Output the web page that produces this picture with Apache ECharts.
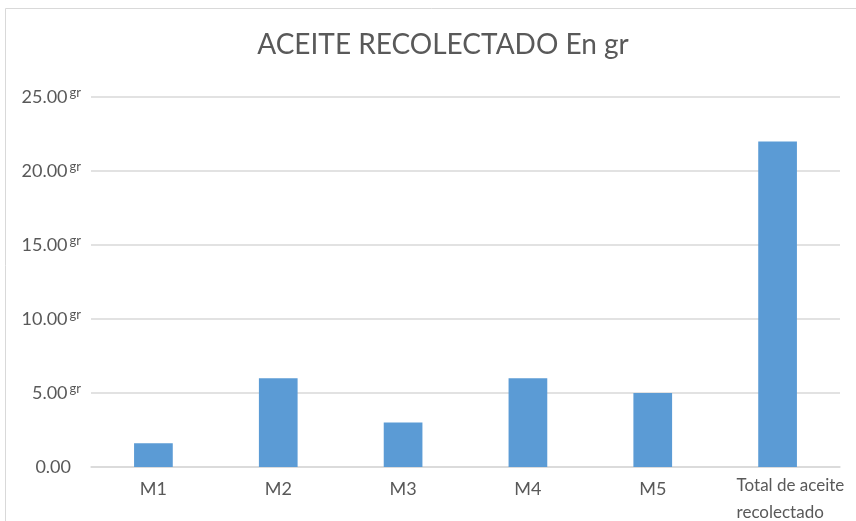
<!DOCTYPE html>
<html>
<head>
<meta charset="utf-8">
<script src="https://cdn.jsdelivr.net/npm/echarts@6/dist/echarts.min.js"></script>
<style>
  html, body { margin: 0; padding: 0; background: #fff; }
  #chart { width: 856px; height: 521px; }
</style>
</head>
<body>
<div id="chart"></div>
<script>
var categories = ["M1", "M2", "M3", "M4", "M5", "Total de aceite\nrecolectado"];
var aceite = [1.6, 6, 3, 6, 5, 22];
var yTicks = { min: 0, max: 25, interval: 5 };

var chart = echarts.init(document.getElementById("chart"));
var option = {
  animation: false,
  textStyle: { fontFamily: "Lato, 'Open Sans', sans-serif" },
  title: {
    text: "ACEITE RECOLECTADO En gr",
    left: 438,
    top: 26,
    textAlign: "center",
    textStyle: { fontSize: 28, fontWeight: "normal", color: "#595959", fontFamily: "Lato" }
  },
  graphic: [
    {
      type: "rect",
      shape: { x: 5.5, y: 8.5, width: 900, height: 600 },
      style: { fill: "none", stroke: "#d9d9d9", lineWidth: 1 },
      silent: true
    }
  ],
  grid: { left: 91, right: 16, top: 97, bottom: 54, outerBoundsMode: "none", containLabel: false },
  xAxis: {
    type: "category",
    data: categories,
    axisTick: { show: false },
    axisLine: { lineStyle: { color: "#d9d9d9", width: 1.5 } },
    axisLabel: {
      interval: 0,
      margin: 5,
      color: "#595959",
      fontSize: 18,
      formatter: function (v) {
        if (v.indexOf("\n") >= 0) {
          return v.split("\n").map(function (s) { return "{t|" + s + "}"; }).join("\n");
        }
        return "{m|" + v + "}";
      },
      rich: {
        m: { fontSize: 18, color: "#595959", lineHeight: 24, padding: [10, 0, 0, 0] },
        t: { fontSize: 17, color: "#595959", width: 110, align: "left", padding: [0, 0, 0, 28], lineHeight: 27 }
      }
    }
  },
  yAxis: {
    type: "value",
    min: yTicks.min,
    max: yTicks.max,
    interval: yTicks.interval,
    axisLine: { show: false },
    axisTick: { show: false },
    splitLine: { lineStyle: { color: "#d9d9d9", width: 1.5 } },
    axisLabel: {
      margin: 10,
      color: "#595959",
      formatter: function (v) {
        if (v === 0) return "{z|0.00}";
        return "{a|" + v.toFixed(2) + "}{b|gr}";
      },
      rich: {
        a: { fontSize: 18, color: "#595959" },
        z: { fontSize: 18, color: "#595959", padding: [0, 10, 0, 0] },
        b: { fontSize: 13, color: "#595959", verticalAlign: "top", padding: [0, 0, 8, 2] }
      }
    }
  },
  series: [
    {
      name: "Aceite",
      type: "bar",
      data: aceite,
      barWidth: "31%",
      itemStyle: { color: "#5b9bd5" }
    }
  ]
};
chart.setOption(option);
</script>
</body>
</html>
